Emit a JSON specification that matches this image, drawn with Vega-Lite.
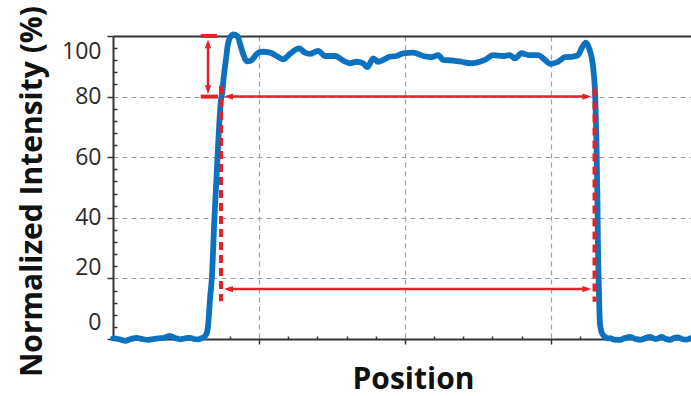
{
  "$schema": "https://vega.github.io/schema/vega-lite/v6.json",
  "width": 578,
  "height": 303,
  "autosize": "none",
  "padding": {"left": 113, "top": 36, "right": 0, "bottom": 57},
  "background": "white",
  "config": {
    "view": {"stroke": null},
    "axis": {
      "labelFont": "Open Sans",
      "titleFont": "Open Sans",
      "labelColor": "#2b2b2b",
      "titleColor": "#111",
      "domainColor": "#333",
      "domainWidth": 2,
      "tickColor": "#333",
      "tickWidth": 1.5
    }
  },
  "datasets": {
    "curve": [
      {"x": 0, "y": 0.2}, {"x": 0.34, "y": 0.0}, {"x": 0.82, "y": -0.6}, {"x": 1.23, "y": 0.0},
      {"x": 1.62, "y": 0.4}, {"x": 1.99, "y": 0.0}, {"x": 2.42, "y": -0.3}, {"x": 2.74, "y": 0.0},
      {"x": 3.10, "y": 0.2}, {"x": 3.49, "y": 0.4}, {"x": 3.90, "y": 1.0}, {"x": 4.25, "y": 0.3},
      {"x": 4.59, "y": -0.1}, {"x": 4.93, "y": 0.2}, {"x": 5.27, "y": 0.4}, {"x": 5.55, "y": 0.0},
      {"x": 5.84, "y": -0.1}, {"x": 6.03, "y": 0.2}, {"x": 6.18, "y": 0.4}, {"x": 6.30, "y": 1.0},
      {"x": 6.42, "y": 1.9}, {"x": 6.53, "y": 5.2}, {"x": 6.58, "y": 8.5}, {"x": 6.64, "y": 12.9},
      {"x": 6.77, "y": 20}, {"x": 6.95, "y": 40}, {"x": 7.16, "y": 60}, {"x": 7.40, "y": 79},
      {"x": 7.47, "y": 81}, {"x": 7.60, "y": 87}, {"x": 7.75, "y": 92.7}, {"x": 7.86, "y": 97.0},
      {"x": 8.03, "y": 99.6}, {"x": 8.27, "y": 100.5}, {"x": 8.55, "y": 99.8}, {"x": 8.70, "y": 97.5},
      {"x": 8.92, "y": 94.0}, {"x": 9.20, "y": 91.6}, {"x": 9.43, "y": 91.8}, {"x": 9.73, "y": 93.4},
      {"x": 9.95, "y": 94.5}, {"x": 10.29, "y": 94.8}, {"x": 10.75, "y": 94.5}, {"x": 11.21, "y": 93.4},
      {"x": 11.66, "y": 92.3}, {"x": 12.12, "y": 94.1}, {"x": 12.76, "y": 95.9}, {"x": 13.15, "y": 94.5},
      {"x": 13.49, "y": 94.1}, {"x": 14.06, "y": 95.1}, {"x": 14.52, "y": 93.4}, {"x": 15.21, "y": 93.4},
      {"x": 15.77, "y": 91.9}, {"x": 16.23, "y": 91.0}, {"x": 16.69, "y": 91.5}, {"x": 17.14, "y": 91.0},
      {"x": 17.42, "y": 89.7}, {"x": 17.83, "y": 92.6}, {"x": 18.17, "y": 91.5}, {"x": 18.51, "y": 92.1},
      {"x": 18.97, "y": 93.2}, {"x": 19.43, "y": 93.4}, {"x": 19.88, "y": 94.3}, {"x": 20.57, "y": 94.5},
      {"x": 21.25, "y": 93.4}, {"x": 21.83, "y": 93.0}, {"x": 22.28, "y": 93.7}, {"x": 22.62, "y": 92.1},
      {"x": 23.31, "y": 91.9}, {"x": 23.88, "y": 91.5}, {"x": 24.45, "y": 91.0}, {"x": 24.91, "y": 91.2},
      {"x": 25.48, "y": 92.1}, {"x": 26.05, "y": 93.7}, {"x": 26.73, "y": 93.4}, {"x": 27.19, "y": 93.7},
      {"x": 27.53, "y": 92.6}, {"x": 27.99, "y": 94.3}, {"x": 28.45, "y": 93.7}, {"x": 29.13, "y": 93.7},
      {"x": 29.59, "y": 92.1}, {"x": 29.98, "y": 90.8}, {"x": 30.50, "y": 91.5}, {"x": 30.96, "y": 93.0},
      {"x": 31.53, "y": 93.2}, {"x": 31.87, "y": 93.7}, {"x": 32.10, "y": 95.9}, {"x": 32.40, "y": 97.8},
      {"x": 32.62, "y": 95.9}, {"x": 32.86, "y": 91.0}, {"x": 32.95, "y": 87}, {"x": 33.04, "y": 80},
      {"x": 33.12, "y": 65.7}, {"x": 33.19, "y": 45.9}, {"x": 33.22, "y": 32.7}, {"x": 33.29, "y": 16.2},
      {"x": 33.36, "y": 5.2}, {"x": 33.46, "y": 2.5}, {"x": 33.58, "y": 1.3}, {"x": 33.77, "y": 0.5},
      {"x": 33.92, "y": 0.2}, {"x": 34.04, "y": 0.3}, {"x": 34.32, "y": -0.2}, {"x": 34.73, "y": -0.3},
      {"x": 35.07, "y": 0.3}, {"x": 35.41, "y": 0.7}, {"x": 35.75, "y": 0.1}, {"x": 36.10, "y": -0.3},
      {"x": 36.44, "y": 0.2}, {"x": 36.78, "y": 0.7}, {"x": 37.19, "y": 0.0}, {"x": 37.60, "y": 0.7},
      {"x": 37.88, "y": 0.0}, {"x": 38.15, "y": -0.3}, {"x": 38.42, "y": 0.3}, {"x": 38.70, "y": 0.5},
      {"x": 38.97, "y": 0.0}, {"x": 39.25, "y": -0.2}, {"x": 39.59, "y": 0.3}
    ],
    "dashes": [
      {"x": 7.40, "x2": 7.40, "y": 83.5, "y2": 12.5},
      {"x": 32.99, "x2": 32.99, "y": 82.7, "y2": 12.3}
    ],
    "caps": [
      {"x": 6.01, "x2": 7.12, "y": 100, "y2": 100},
      {"x": 6.01, "x2": 7.19, "y": 80, "y2": 80}
    ],
    "shafts": [
      {"x": 6.51, "x2": 6.51, "y": 97.5, "y2": 82.5},
      {"x": 7.9, "x2": 32.5, "y": 80, "y2": 80},
      {"x": 7.9, "x2": 32.5, "y": 16.5, "y2": 16.5}
    ],
    "heads": [
      {"x": 6.51, "y": 97.4, "dir": "up"},
      {"x": 6.51, "y": 82.3, "dir": "down"},
      {"x": 7.91, "y": 80, "dir": "left"},
      {"x": 32.47, "y": 80, "dir": "right"},
      {"x": 7.91, "y": 16.5, "dir": "left"},
      {"x": 32.47, "y": 16.5, "dir": "right"}
    ]
  },
  "layer": [
    {
      "data": {"name": "curve"},
      "mark": {"type": "line", "color": "#0c72c0", "strokeWidth": 5.8, "strokeJoin": "round", "strokeCap": "round", "interpolate": "monotone"},
      "encoding": {
        "x": {
          "field": "x", "type": "quantitative",
          "scale": {"domain": [0, 39.6], "nice": false, "zero": false},
          "axis": {
            "orient": "bottom",
            "values": [10, 20, 30],
            "labels": false,
            "tickSize": 5,
            "grid": true,
            "gridColor": "#a0a0a0",
            "gridDash": [5, 4],
            "gridWidth": 1.2,
            "title": "Position",
            "titleFontSize": 30,
            "titleFontWeight": "bold",
            "titleX": 300,
            "titleY": 49,
            "titleBaseline": "alphabetic",
            "titleAlign": "center"
          }
        },
        "y": {
          "field": "y", "type": "quantitative",
          "scale": {"domain": [0, 100], "nice": false},
          "axis": {
            "orient": "left",
            "values": [0, 20, 40, 60, 80, 100],
            "tickSize": 6,
            "labelFontSize": 23,
            "labelPadding": 6,
            "labelBaseline": "middle",
            "labelOffset": {
              "condition": [
                {"test": "datum.value === 100", "value": 15},
                {"test": "datum.value === 20", "value": -11},
                {"test": "datum.value === 0", "value": -17}
              ],
              "value": 0
            },
            "grid": true,
            "gridColor": {"condition": {"test": "datum.value === 100", "value": "#333"}, "value": "#a0a0a0"},
            "gridDash": {"condition": {"test": "datum.value === 100", "value": []}, "value": [5, 4]},
            "gridWidth": {"condition": {"test": "datum.value === 100", "value": 2}, "value": 1.2},
            "title": "Normalized Intensity (%)",
            "titleFontSize": 30,
            "titleFontWeight": "bold",
            "titleAngle": 270,
            "titleX": -72,
            "titleY": 155,
            "titleBaseline": "alphabetic",
            "titleAlign": "center"
          }
        }
      }
    },
    {
      "data": {"name": "dashes"},
      "mark": {"type": "rule", "color": "#e32228", "strokeWidth": 4, "strokeDash": [8, 5]},
      "encoding": {
        "x": {
          "field": "x", "type": "quantitative",
          "axis": {
            "orient": "bottom",
            "values": [2, 4, 6, 8, 12, 14, 16, 18, 22, 24, 26, 28, 32, 34, 36, 38],
            "labels": false, "domain": false, "grid": false, "tickSize": -3, "title": null
          }
        },
        "x2": {"field": "x2"},
        "y": {
          "field": "y", "type": "quantitative",
          "axis": {
            "orient": "left",
            "values": [4, 8, 12, 16, 24, 28, 32, 36, 44, 48, 52, 56, 64, 68, 72, 76, 84, 88, 92, 96],
            "labels": false, "domain": false, "grid": false, "tickSize": -4, "title": null
          }
        },
        "y2": {"field": "y2"}
      }
    },
    {
      "data": {"name": "caps"},
      "mark": {"type": "rule", "color": "#e32228", "strokeWidth": 4},
      "encoding": {
        "x": {"field": "x", "type": "quantitative", "axis": null},
        "x2": {"field": "x2"},
        "y": {"field": "y", "type": "quantitative", "axis": null},
        "y2": {"field": "y2"}
      }
    },
    {
      "data": {"name": "shafts"},
      "mark": {"type": "rule", "color": "#e32228", "strokeWidth": 2.5},
      "encoding": {
        "x": {"field": "x", "type": "quantitative", "axis": null},
        "x2": {"field": "x2"},
        "y": {"field": "y", "type": "quantitative", "axis": null},
        "y2": {"field": "y2"}
      }
    },
    {
      "data": {"name": "heads"},
      "mark": {"type": "point", "filled": true, "color": "#e32228", "opacity": 1, "size": 80, "strokeWidth": 0},
      "encoding": {
        "x": {"field": "x", "type": "quantitative", "axis": null},
        "y": {"field": "y", "type": "quantitative", "axis": null},
        "shape": {
          "field": "dir", "type": "nominal", "legend": null,
          "scale": {
            "domain": ["up", "down", "left", "right"],
            "range": ["M0,-1L0.7,1L-0.7,1Z", "M0,1L0.7,-1L-0.7,-1Z", "M-1,0L1,-0.7L1,0.7Z", "M1,0L-1,-0.7L-1,0.7Z"]
          }
        }
      }
    }
  ],
  "resolve": {"axis": {"x": "independent", "y": "independent"}}
}
